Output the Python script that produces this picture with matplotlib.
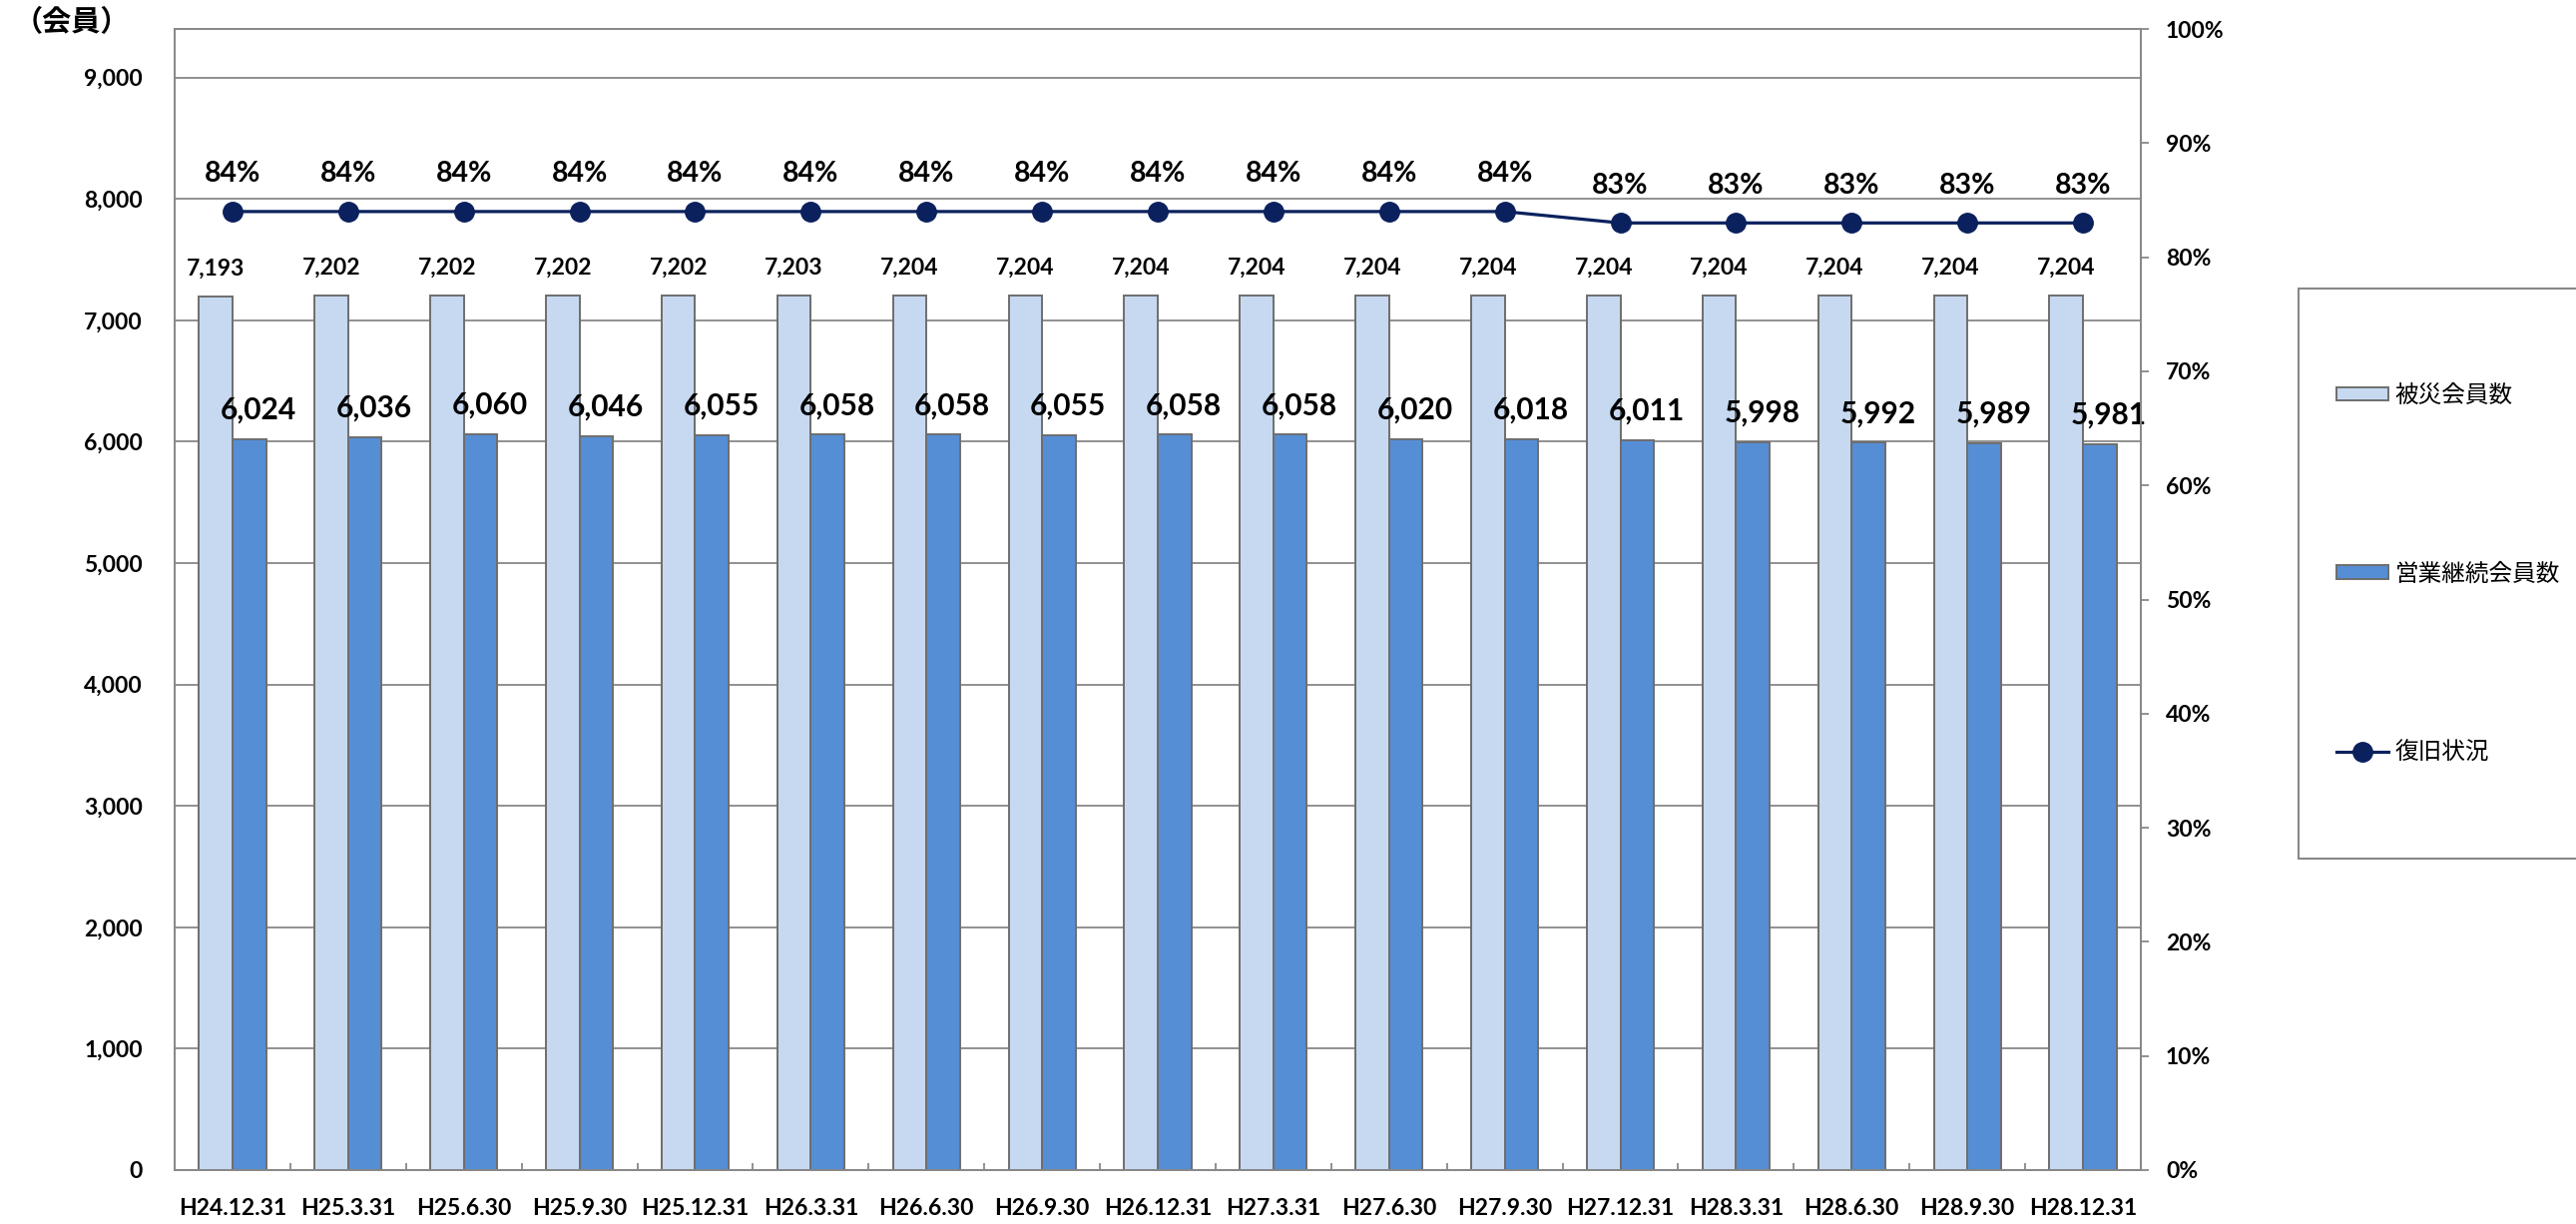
import matplotlib
matplotlib.use("Agg")
import matplotlib.pyplot as plt
from matplotlib.patches import Rectangle
from matplotlib.ticker import FixedLocator, FuncFormatter

plt.rcParams['font.family'] = ['Lato', 'Noto Sans CJK JP', 'DejaVu Sans']

# data
dates = ["H24.12.31", "H25.3.31", "H25.6.30", "H25.9.30", "H25.12.31", "H26.3.31",
         "H26.6.30", "H26.9.30", "H26.12.31", "H27.3.31", "H27.6.30", "H27.9.30",
         "H27.12.31", "H28.3.31", "H28.6.30", "H28.9.30", "H28.12.31"]
hisai = [7193, 7202, 7202, 7202, 7202, 7203, 7204, 7204, 7204, 7204, 7204, 7204,
         7204, 7204, 7204, 7204, 7204]
keizoku = [6024, 6036, 6060, 6046, 6055, 6058, 6058, 6055, 6058, 6058, 6020, 6018,
           6011, 5998, 5992, 5989, 5981]
fukkyu = [84, 84, 84, 84, 84, 84, 84, 84, 84, 84, 84, 84, 83, 83, 83, 83, 83]

W, H = 2581, 1226
grey = "#888888"
light = "#C6D9F1"
dark = "#558ED5"
navy = "#0B215E"

fig = plt.figure(figsize=(W / 100, H / 100), dpi=100)
ax = fig.add_axes([175 / W, 1 - 1172 / H, (2145 - 175) / W, (1172 - 29) / H])

x = list(range(len(dates)))
bw = 0.29
b1 = ax.bar([i - bw / 2 for i in x], hisai, bw, color=light, edgecolor="#6E6E6E",
            linewidth=1.4, zorder=3, label="被災会員数")
b2 = ax.bar([i + bw / 2 for i in x], keizoku, bw, color=dark, edgecolor="#6E6E6E",
            linewidth=1.4, zorder=3, label="営業継続会員数")

for i in x:
    ax.annotate(f"{hisai[i]:,}", (i - bw / 2, hisai[i]), xytext=(0, 20),
                textcoords="offset points", ha="center", va="center",
                fontsize=16.5, fontweight="bold")
    ax.annotate(f"{keizoku[i]:,}", (i + bw / 2 + 0.08, keizoku[i]), xytext=(0, 21),
                textcoords="offset points", ha="center", va="center",
                fontsize=21.5, fontweight="bold")

ax.set_xlim(-0.5, len(dates) - 0.5)
ax.set_ylim(0, 9400)
ax.set_yticks(range(0, 9001, 1000))
ax.yaxis.set_major_formatter(FuncFormatter(lambda v, p: f"{int(v):,}"))
ax.grid(axis="y", color=grey, linewidth=1.3, zorder=0)
ax.set_axisbelow(True)
ax.tick_params(axis="y", length=0, pad=23, labelsize=16.5)
ax.set_xticks(x)
ax.set_xticklabels(dates, fontsize=16.5, fontweight="bold")
ax.tick_params(axis="x", which="major", length=0, pad=20)
ax.xaxis.set_minor_locator(FixedLocator([i + 0.5 for i in range(-1, len(dates))]))
ax.tick_params(axis="x", which="minor", direction="in", length=5, color=grey, width=1.3)
for lab in ax.get_yticklabels():
    lab.set_fontweight("bold")
for s in ax.spines.values():
    s.set_color(grey)
    s.set_linewidth(1.3)

ax2 = ax.twinx()
ln, = ax2.plot(x, [v / 100 for v in fukkyu], color=navy, linewidth=2.3, marker="o",
               markersize=14, zorder=5, label="復旧状況")
for i in x:
    ax2.annotate(f"{fukkyu[i]}%", (i, fukkyu[i] / 100), xytext=(0, 27),
                 textcoords="offset points", ha="center", va="center",
                 fontsize=20.5, fontweight="bold")
ax2.set_ylim(0, 1)
ax2.set_yticks([i / 10 for i in range(11)])
ax2.yaxis.set_major_formatter(FuncFormatter(lambda v, p: f"{round(v * 100)}%"))
ax2.tick_params(axis="y", direction="out", length=6, color=grey, width=1.3, pad=12,
                labelsize=16.5)
for lab in ax2.get_yticklabels():
    lab.set_fontweight("bold")
for s in ax2.spines.values():
    s.set_color(grey)
    s.set_linewidth(1.3)

fig.text(14 / W, 1 - 22 / H, "（会員）", fontsize=21, fontweight="bold",
         family="Noto Sans CJK JP", ha="left", va="center")

# legend frame
fig.patches.append(Rectangle((2303 / W, 1 - 860 / H), (W + 10 - 2303) / W, (860 - 289) / H,
                             transform=fig.transFigure, facecolor="white",
                             edgecolor=grey, linewidth=1.5, zorder=0))
leg = fig.legend([b1, b2, ln], ["被災会員数", "営業継続会員数", "復旧状況"],
                 loc="center left", bbox_to_anchor=(2329 / W, 1 - 575 / H),
                 frameon=False, prop={"family": "Noto Sans CJK JP", "size": 17},
                 labelspacing=6.6, handlelength=2.2, handleheight=0.5,
                 handletextpad=0.3, borderpad=0)

fig.savefig("out.png", dpi=100)
